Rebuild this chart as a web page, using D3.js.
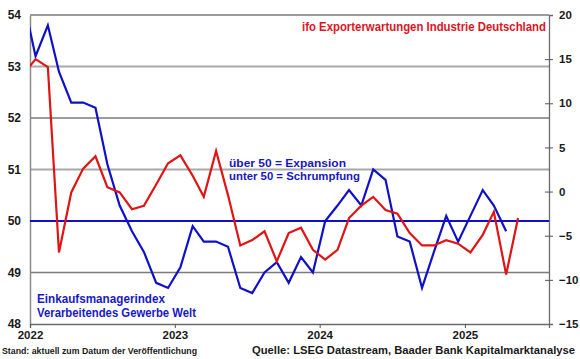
<!DOCTYPE html>
<html><head><meta charset="utf-8">
<script src="https://cdn.jsdelivr.net/npm/d3@7"></script>
<style>
html,body{margin:0;padding:0;background:#fff;}
svg{display:block;font-family:"Liberation Sans",Arial,sans-serif;font-weight:bold;}
</style></head>
<body>
<svg id="chart" width="580" height="359"></svg>
<script>
const months = ["2021-12",
 "2022-01","2022-02","2022-03","2022-04","2022-05","2022-06","2022-07","2022-08","2022-09","2022-10","2022-11","2022-12",
 "2023-01","2023-02","2023-03","2023-04","2023-05","2023-06","2023-07","2023-08","2023-09","2023-10","2023-11","2023-12",
 "2024-01","2024-02","2024-03","2024-04","2024-05","2024-06","2024-07","2024-08","2024-09","2024-10","2024-11","2024-12",
 "2025-01","2025-02","2025-03","2025-04","2025-05"];
// Einkaufsmanagerindex Verarbeitendes Gewerbe Welt (left axis)
const pmiWorld = [54.3,
 53.2,53.8,52.9,52.3,52.3,52.2,51.1,50.3,49.8,49.4,48.8,48.7,
 49.1,49.9,49.6,49.6,49.5,48.7,48.6,49.0,49.2,48.8,49.3,49.0,
 50.0,50.3,50.6,50.3,51.0,50.8,49.7,49.6,48.7,49.4,50.1,49.6,
 50.1,50.6,50.3,49.8];
// ifo Exporterwartungen Industrie Deutschland (right axis)
const ifoExport = [13.3,
 15.0,14.1,-6.9,-0.1,2.6,4.0,0.5,-0.1,-2.0,-1.6,0.8,3.2,
 4.1,1.8,-0.6,4.6,-0.4,-6.1,-5.5,-4.5,-7.9,-4.7,-4.1,-6.6,
 -7.7,-6.6,-3.0,-1.6,-0.6,-2.1,-2.5,-4.7,-6.1,-6.1,-5.5,-5.9,
 -6.9,-4.9,-2.3,-9.4,-3.0];
const leftTicks = [48,49,50,51,52,53,54];
const rightTicks = [-15,-10,-5,0,5,10,15,20];
const yearTicks = ["2022","2023","2024","2025"];
const xStart = "2022-01-01", xEnd = "2025-08-01";

const svg = d3.select("#chart");
const L = 30, R = 549, T = 15, B = 324;
const parseM = d3.timeParse("%Y-%m");
const parseD = d3.timeParse("%Y-%m-%d");
const mid = s => d3.timeDay.offset(parseM(s), 14);

const x = d3.scaleTime().domain([parseD(xStart), parseD(xEnd)]).range([L, R]);
const yL = d3.scaleLinear().domain([48, 54]).range([B, T]);
const yR = d3.scaleLinear().domain([-15, 20]).range([B, T]);

svg.append("clipPath").attr("id","clip").append("rect")
  .attr("x", L).attr("y", T-2).attr("width", R-L).attr("height", B-T+4);

// gridlines
const lighter = new Set([53, 51]);
svg.append("g").selectAll("line").data(leftTicks.filter(d => d !== 50 && d !== 48)).join("line")
  .attr("x1", L).attr("x2", R).attr("y1", d => yL(d)).attr("y2", d => yL(d))
  .attr("stroke", d => lighter.has(d) ? "#a8a8a8" : "#7a7a7a")
  .attr("stroke-width", d => lighter.has(d) ? 2 : 1.3);

// left axis
const gl = svg.append("g").attr("transform", `translate(${L},0)`)
  .call(d3.axisLeft(yL).tickValues(leftTicks).tickSize(0).tickPadding(9).tickFormat(d3.format("d")));
gl.select(".domain").attr("stroke", "#8a8a8a").attr("stroke-width", 1.5);
gl.selectAll("text").attr("font-size", 12).attr("fill", "#1a1a1a")
  .attr("font-family", "'Liberation Sans',Arial,sans-serif").attr("font-weight", "bold");

// right axis
const gr = svg.append("g").attr("transform", `translate(${R},0)`)
  .call(d3.axisRight(yR).tickValues(rightTicks).tickSize(4).tickPadding(6).tickFormat(d3.format("d")));
gr.select(".domain").attr("stroke", "#6a6a6a").attr("stroke-width", 1.3);
gr.selectAll(".tick line").attr("x1", -4).attr("x2", 4).attr("stroke", "#555");
gr.selectAll(".tick").filter(d => d === 20 || d === -15).select("line").remove();
gr.selectAll("text").attr("font-size", 11.5).attr("fill", "#1a1a1a")
  .attr("font-family", "'Liberation Sans',Arial,sans-serif").attr("font-weight", "bold");

// bottom axis
const gb = svg.append("g").attr("transform", `translate(0,${B})`)
  .call(d3.axisBottom(x).tickValues(yearTicks.map(y => parseD(y + "-01-01")))
    .tickSize(4).tickPadding(3).tickFormat(d3.timeFormat("%Y")));
gb.select(".domain").attr("stroke", "#6a6a6a").attr("stroke-width", 1.3);
gb.selectAll(".tick line").attr("stroke", "#555");
gb.selectAll("text").attr("font-size", 11.5).attr("fill", "#1a1a1a")
  .attr("font-family", "'Liberation Sans',Arial,sans-serif").attr("font-weight", "bold");

// 50 line
svg.append("line").attr("x1", L).attr("x2", R).attr("y1", yL(50)).attr("y2", yL(50))
  .attr("stroke", "#1010c8").attr("stroke-width", 2);

const plot = svg.append("g").attr("clip-path", "url(#clip)");
plot.append("path").datum(months.slice(0, pmiWorld.length))
  .attr("fill", "none").attr("stroke", "#1010c8").attr("stroke-width", 2.2).attr("stroke-linejoin", "miter")
  .attr("d", d3.line().x(m => x(mid(m))).y((m, i) => yL(pmiWorld[i])));
plot.append("path").datum(months.slice(0, ifoExport.length))
  .attr("fill", "none").attr("stroke", "#e01414").attr("stroke-width", 2.2)
  .attr("d", d3.line().x(m => x(mid(m))).y((m, i) => yR(ifoExport[i])));

// texts
function txt(s, x0, y0, size, color, len) {
  const t = svg.append("text").attr("x", x0).attr("y", y0).attr("font-size", size)
    .attr("fill", color).text(s);
  if (len) t.attr("textLength", len).attr("lengthAdjust", "spacingAndGlyphs");
  return t;
}
txt("ifo Exporterwartungen Industrie Deutschland", 302, 31, 12, "#e0141e", 244);
txt("über 50 = Expansion", 229, 167, 11.5, "#1818c0", 117);
txt("unter 50 = Schrumpfung", 229, 180, 11.5, "#1818c0", 131);
txt("Einkaufsmanagerindex", 37, 303, 12.5, "#1818c8", 128);
txt("Verarbeitendes Gewerbe Welt", 37, 317, 12.5, "#1818c8", 159);
txt("Stand: aktuell zum Datum der Veröffentlichung", 2, 354, 9, "#1a1a1a", 195);
txt("Quelle: LSEG Datastream, Baader Bank Kapitalmarktanalyse", 252, 354, 11, "#1a1a1a", 323);
</script>
</body></html>
